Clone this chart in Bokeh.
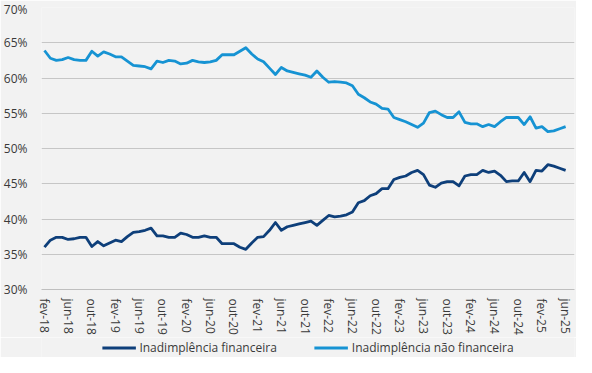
from bokeh.plotting import figure
from bokeh.layouts import column
from bokeh.models import FixedTicker, PrintfTickFormatter, Legend, LegendItem, ColumnDataSource
from bokeh.embed import file_html
from bokeh.resources import INLINE

# ---- data (monthly, fev-18 .. jun-25) ----
months_pt = ["jan", "fev", "mar", "abr", "mai", "jun", "jul", "ago", "set", "out", "nov", "dez"]
start_year, start_month = 2018, 2  # fev-18
n_months = 89

categories = []
for k in range(n_months):
    m = (start_month - 1 + k) % 12
    y = start_year + (start_month - 1 + k) // 12
    categories.append(f"{months_pt[m]}-{str(y)[2:]}")

financeira = [
    36.0, 37.0, 37.4, 37.4, 37.1, 37.2, 37.4, 37.4, 36.1, 36.8,
    36.2, 36.6, 37.0, 36.8, 37.5, 38.1, 38.2, 38.4, 38.7, 37.6,
    37.6, 37.4, 37.4, 38.0, 37.8, 37.4, 37.4, 37.6, 37.4, 37.4,
    36.5, 36.5, 36.5, 36.0, 35.7, 36.6, 37.4, 37.5, 38.4, 39.5,
    38.4, 38.9, 39.1, 39.3, 39.5, 39.7, 39.1, 39.8, 40.5, 40.3,
    40.4, 40.6, 41.0, 42.3, 42.6, 43.3, 43.6, 44.3, 44.3, 45.6,
    45.9, 46.1, 46.6, 46.9, 46.3, 44.8, 44.5, 45.1, 45.3, 45.3,
    44.7, 46.1, 46.3, 46.3, 46.9, 46.6, 46.8, 46.2, 45.3, 45.4,
    45.4, 46.6, 45.3, 46.9, 46.8, 47.7, 47.5, 47.2, 46.9,
]

nao_financeira = [
    63.9, 62.8, 62.5, 62.6, 62.9, 62.6, 62.5, 62.5, 63.8, 63.1,
    63.7, 63.4, 63.0, 63.0, 62.4, 61.8, 61.7, 61.6, 61.3, 62.4,
    62.2, 62.5, 62.4, 62.0, 62.1, 62.5, 62.3, 62.2, 62.3, 62.5,
    63.3, 63.3, 63.3, 63.8, 64.3, 63.4, 62.7, 62.3, 61.4, 60.5,
    61.5, 61.0, 60.8, 60.6, 60.4, 60.1, 61.0, 60.1, 59.4, 59.5,
    59.4, 59.3, 58.9, 57.7, 57.2, 56.6, 56.3, 55.7, 55.6, 54.4,
    54.1, 53.8, 53.4, 53.0, 53.6, 55.1, 55.3, 54.8, 54.4, 54.4,
    55.2, 53.7, 53.5, 53.5, 53.1, 53.4, 53.1, 53.8, 54.4, 54.4,
    54.4, 53.4, 54.5, 52.9, 53.1, 52.4, 52.5, 52.8, 53.1,
]

y_ticks = [30, 35, 40, 45, 50, 55, 60, 65, 70]
x_tick_step = 4

series_names = ["Inadimplência financeira", "Inadimplência não financeira"]
series_colors = ["#0E3F7A", "#1693D3"]

# ---- style ----
FONT = "Open Sans"
TXT = "#3A3A3A"
BG = "#F2F2F2"
LW = 2.8

idx = list(range(n_months))
src = ColumnDataSource(dict(x=idx, fin=financeira, nfin=nao_financeira))

# ---- main chart ----
p = figure(
    width=576, height=337,
    x_range=(-0.5, n_months + 0.5), y_range=(30, 70),
    output_backend="svg", toolbar_location=None,
    background_fill_color=BG, border_fill_color=BG,
    min_border_left=35, min_border_right=2, min_border_top=7, min_border_bottom=48,
)
p.outline_line_color = None

p.line("x", "fin", source=src, line_color=series_colors[0], line_width=LW, line_join="round")
p.line("x", "nfin", source=src, line_color=series_colors[1], line_width=LW, line_join="round")

p.yaxis.ticker = FixedTicker(ticks=y_ticks)
p.yaxis.formatter = PrintfTickFormatter(format="%d%%")
p.yaxis.axis_line_color = None
p.yaxis.major_tick_line_color = None
p.yaxis.minor_tick_line_color = None
p.yaxis.major_label_standoff = 8
p.yaxis.major_label_text_font = FONT
p.yaxis.major_label_text_font_size = "12px"
p.yaxis.major_label_text_color = TXT

xt = list(range(0, n_months, x_tick_step))
p.xaxis.ticker = FixedTicker(ticks=xt)
p.xaxis.major_label_overrides = {i: categories[i] for i in xt}
p.xaxis.major_label_orientation = "vertical"
p.xaxis.axis_line_color = "#BFBFBF"
p.xaxis.axis_line_width = 1
p.xaxis.major_tick_line_color = None
p.xaxis.minor_tick_line_color = None
p.xaxis.major_tick_out = 0
p.xaxis.major_tick_in = 0
p.xaxis.major_label_standoff = 9
p.xaxis.major_label_text_font = FONT
p.xaxis.major_label_text_font_size = "12px"
p.xaxis.major_label_text_color = TXT

p.xgrid.grid_line_color = None
p.ygrid.ticker = FixedTicker(ticks=y_ticks)
p.ygrid.grid_line_color = "#C6C6C6"
p.ygrid.grid_line_width = 1

# ---- legend strip (same series, drawn outside its visible range) ----
lg = figure(
    width=576, height=20,
    x_range=(-0.5, n_months + 0.5), y_range=(0, 1),
    output_backend="svg", toolbar_location=None,
    background_fill_color=BG, border_fill_color=BG,
    min_border_left=35, min_border_right=2, min_border_top=0, min_border_bottom=0,
)
lg.outline_line_color = None
lg.axis.visible = False
lg.grid.visible = False
l1 = lg.line("x", "fin", source=src, line_color=series_colors[0], line_width=LW)
l2 = lg.line("x", "nfin", source=src, line_color=series_colors[1], line_width=LW)

legend = Legend(
    items=[LegendItem(label=series_names[0], renderers=[l1]),
           LegendItem(label=series_names[1], renderers=[l2])],
    orientation="horizontal", location="center",
    glyph_width=34, glyph_height=14, label_standoff=4, spacing=37,
    padding=1, margin=0,
    label_text_font=FONT, label_text_font_size="12px", label_text_color=TXT,
    background_fill_alpha=0, border_line_color=None,
)
lg.add_layout(legend, "center")

layout = column(p, lg, spacing=0)
open("out.html", "w").write(file_html(layout, INLINE))
